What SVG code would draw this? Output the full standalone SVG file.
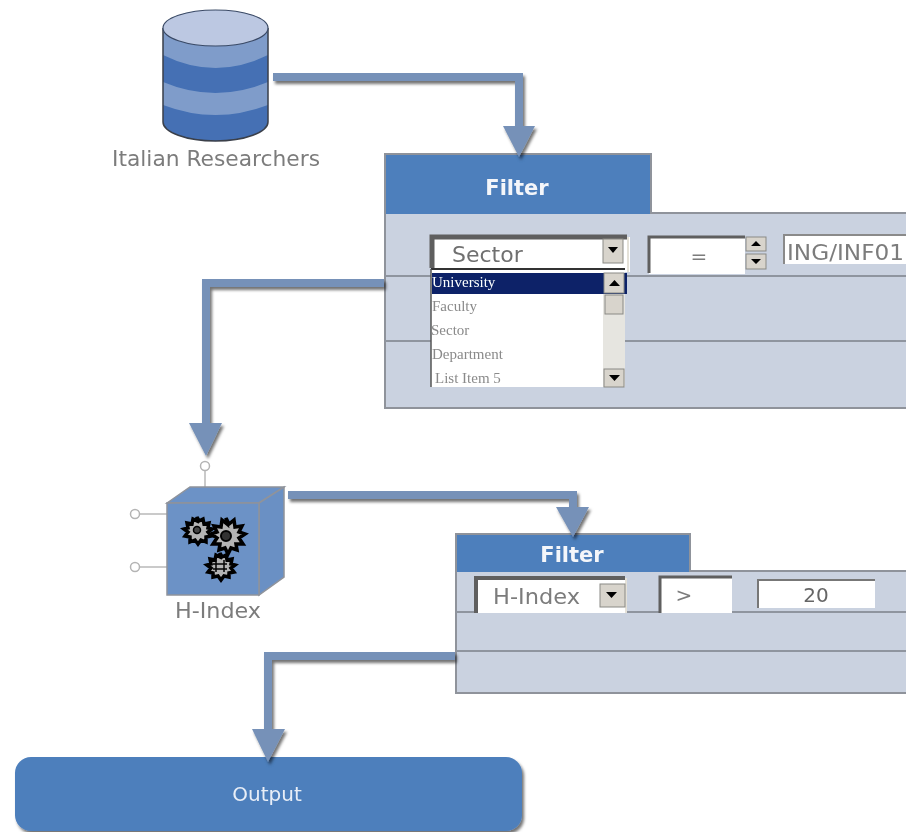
<svg xmlns="http://www.w3.org/2000/svg" width="906" height="832" viewBox="0 0 906 832">
<style>
.lbl{font-family:"DejaVu Sans",Verdana,sans-serif;fill:#7c7c7c}
.tab{fill:#4d7fbc;stroke:#8f939b;stroke-width:2}
.panel{fill:#cad2e0;stroke:#8f939b;stroke-width:2}
.sep{stroke:#8f959f;stroke-width:2}
.ttl{font-family:"DejaVu Sans",Verdana,sans-serif;font-weight:700;fill:#f4f6fa;text-anchor:middle}
.conn{fill:none;stroke:#7691b8;stroke-width:8}
.head{fill:#7691b8}
.btn{fill:#d8d4cc;stroke:#8a8a85;stroke-width:1}
.tri{fill:#000}
.inset{fill:none;stroke:#5e5e5e;stroke-width:3}
.edge{fill:none;stroke:#e4e1d8;stroke-width:2}
.item{font-family:"Liberation Serif",serif;font-size:15px;fill:#8a8a8a}
.gear{fill:#b4b4b4;stroke:#000;stroke-width:3.500}
.pin{fill:#fff;stroke:#b4b4b4;stroke-width:1.500}
.wire{stroke:#b8b8b8;stroke-width:1.500}
</style>
<defs>
<filter id="sh" x="-10%" y="-10%" width="125%" height="125%"><feDropShadow dx="2" dy="3" stdDeviation="1.500" flood-color="#000" flood-opacity="0.550"/></filter>
<filter id="soft" x="-5%" y="-5%" width="110%" height="110%"><feGaussianBlur stdDeviation="0.650"/></filter>
</defs>
<rect width="906" height="832" fill="#fff"/>
<g filter="url(#soft)">
<g id="node-researchers">
<path d="M163 28V122C163 132 186 141 215.500 141C245 141 268 132 268 122V28Z" fill="#4470b4"/>
<path d="M163 28V55Q215.500 81 268 55V28Z M163 82Q215.500 104 268 82V105Q215.500 125 163 105Z" fill="#7f9cca"/>
<path d="M163 28V122C163 132 186 141 215.500 141C245 141 268 132 268 122V28" fill="none" stroke="#3a3f4a" stroke-width="1.500"/>
<ellipse cx="215.500" cy="28" rx="52.500" ry="18" fill="#bcc8e2" stroke="#3a4a66" stroke-width="1.200"/>
<text class="lbl" x="112" y="166" font-size="21" textLength="208" lengthAdjust="spacingAndGlyphs">Italian Researchers</text>
</g>
<g id="node-filter1">
<rect class="tab" x="385" y="154" width="266" height="59"/>
<rect class="panel" x="385" y="213" width="530" height="195"/>
<rect x="386" y="211" width="264" height="3" fill="#4d7fbc"/>
<line class="sep" x1="385" y1="276" x2="906" y2="276"/>
<line class="sep" x1="385" y1="341" x2="906" y2="341"/>
<text class="ttl" x="517" y="195" font-size="21">Filter</text>
<rect x="431" y="237" width="199" height="35" fill="#fff"/>
<path class="edge" d="M628 237V272" stroke-width="4"/>
<path d="M432 268V237H627" class="inset" style="stroke-width:5"/>
<rect class="btn" x="603" y="239" width="20" height="24"/>
<path class="tri" d="M608 247h10l-5 6z"/>
<text class="lbl" x="452" y="262" font-size="22" style="fill:#6f6f6f">Sector</text>
<rect x="649" y="237" width="96" height="37" fill="#fff"/>
<path d="M649 273V237H745" class="inset"/>
<text class="lbl" x="699" y="263" font-size="20" text-anchor="middle">=</text>
<rect class="btn" x="746" y="237" width="20" height="14"/>
<rect class="btn" x="746" y="254" width="20" height="15"/>
<path class="tri" d="M751 246h10l-5-5z M751 259h10l-5 5z"/>
<rect x="783" y="235" width="123" height="29" fill="#fff"/>
<path d="M784 264V235H906" fill="none" stroke="#8a8a8a" stroke-width="2"/>
<text class="lbl" x="787" y="260" font-size="22" textLength="117" lengthAdjust="spacingAndGlyphs">ING/INF01</text>
<rect x="431" y="269" width="194" height="118" fill="#fff"/>
<rect x="603" y="273" width="22" height="114" fill="#e6e5e0"/>
<path d="M431 269H625" stroke="#333" stroke-width="2"/>
<path d="M431 269V387" stroke="#555" stroke-width="1.500"/>
<rect x="432" y="273" width="195" height="21" fill="#0a2468"/>
<rect class="btn" x="604" y="273" width="20" height="20"/>
<path class="tri" d="M609 286h11l-5.500-6z"/>
<rect class="btn" x="605" y="295" width="18" height="19"/>
<rect class="btn" x="604" y="369" width="20" height="18"/>
<path class="tri" d="M609 375h11l-5.500 6z"/>
<text x="432" y="287" font-family="Liberation Serif,serif" font-size="15" fill="#fff">University</text>
<text class="item" x="432" y="311">Faculty</text>
<text class="item" x="431" y="335">Sector</text>
<text class="item" x="432" y="359">Department</text>
<text class="item" x="435" y="383">List Item 5</text>
</g>
<g id="node-hindex">
<line class="wire" x1="205" y1="470" x2="205" y2="494"/>
<line class="wire" x1="139" y1="514" x2="167" y2="514"/>
<line class="wire" x1="139" y1="567" x2="167" y2="567"/>
<circle class="pin" cx="205" cy="466" r="4.500"/>
<circle class="pin" cx="135" cy="514" r="4.500"/>
<circle class="pin" cx="135" cy="567" r="4.500"/>
<path d="M167 503L190 487H284L259 503Z" fill="#6c92c6" stroke="#8f939b" stroke-width="1.500"/>
<path d="M259 503L284 487V577L259 595Z" fill="#6b90c4" stroke="#8f939b" stroke-width="1.500"/>
<rect x="167" y="503" width="92" height="92" fill="#6c92c6" stroke="#8f939b" stroke-width="1.500"/>
<path class="gear" d="M226 518l3 6 5-4 1 7 7-1-3 6 6 2-6 4 4 6-7 0 1 6-6-2-3 6-3-6-6 2 1-6-7 0 4-6-6-4 6-2-3-6 7 1 1-7 5 4z"/>
<circle cx="226" cy="536" r="5" fill="#333" stroke="#000" stroke-width="2"/>
<path class="gear" d="M197 517l2 4 4-2 1 5 5-1-1 5 4 1-4 3 3 4-5 1 0 5-5-2-3 4-3-4-5 2 0-5-5-1 3-4-4-3 4-1-1-5 5 1 1-5 4 2z"/>
<circle cx="197" cy="530" r="3.500" fill="#444" stroke="#000" stroke-width="1.500"/>
<path class="gear" d="M220 553l2 4 4-2 1 5 5-1-1 5 4 1-4 3 3 4-5 1 0 4-5-1-3 4-3-4-5 1 0-4-5-1 3-4-4-3 4-1-1-5 5 1 1-5 4 2z"/>
<path d="M216 560v12M224 560v12M213 564h14M213 569h14" stroke="#000" stroke-width="1.500"/>
<text class="lbl" x="175" y="618" font-size="21" textLength="86" lengthAdjust="spacingAndGlyphs">H-Index</text>
</g>
<g id="node-filter2">
<rect class="tab" x="456" y="534" width="234" height="38"/>
<rect class="panel" x="456" y="571" width="460" height="122"/>
<rect x="457" y="570" width="232" height="2" fill="#4d7fbc"/>
<line class="sep" x1="456" y1="612" x2="906" y2="612"/>
<line class="sep" x1="456" y1="651" x2="906" y2="651"/>
<text class="ttl" x="572" y="562" font-size="21">Filter</text>
<rect x="476" y="578" width="151" height="35" fill="#fff"/>
<path class="edge" d="M626 578V613"/>
<path d="M476 613V578H625" class="inset" style="stroke-width:4"/>
<rect class="btn" x="600" y="584" width="25" height="23"/>
<path class="tri" d="M606 592h11l-5.500 6z"/>
<text class="lbl" x="493" y="604" font-size="21" textLength="87" lengthAdjust="spacingAndGlyphs">H-Index</text>
<rect x="660" y="577" width="72" height="36" fill="#fff"/>
<path d="M660 613V577H732" class="inset"/>
<text class="lbl" x="684" y="602" font-size="20" text-anchor="middle">&gt;</text>
<rect x="758" y="580" width="117" height="28" fill="#fff"/>
<path d="M758 608V580H875" fill="none" stroke="#777" stroke-width="2"/>
<text class="lbl" x="816" y="602" font-size="20" text-anchor="middle" style="fill:#666">20</text>
</g>
<g id="node-output">
<rect x="15" y="757" width="507" height="74" rx="16" ry="16" fill="#4d7fbc" filter="url(#sh)"/>
<text x="267" y="801" font-family="DejaVu Sans,Verdana,sans-serif" font-size="20" fill="#e8eef7" text-anchor="middle">Output</text>
</g>
<g id="connectors" filter="url(#sh)">
<path class="conn" d="M273 77H519V128"/>
<path class="head" d="M503 126H535L519 157Z"/>
<path class="conn" d="M384 283H206V425"/>
<path class="head" d="M189 423H222L206 456Z"/>
<path class="conn" d="M288 495H573V509"/>
<path class="head" d="M556 507H589L573 537Z"/>
<path class="conn" d="M455 656H268V731"/>
<path class="head" d="M252 729H285L268 762Z"/>
</g>
</g>
</svg>
